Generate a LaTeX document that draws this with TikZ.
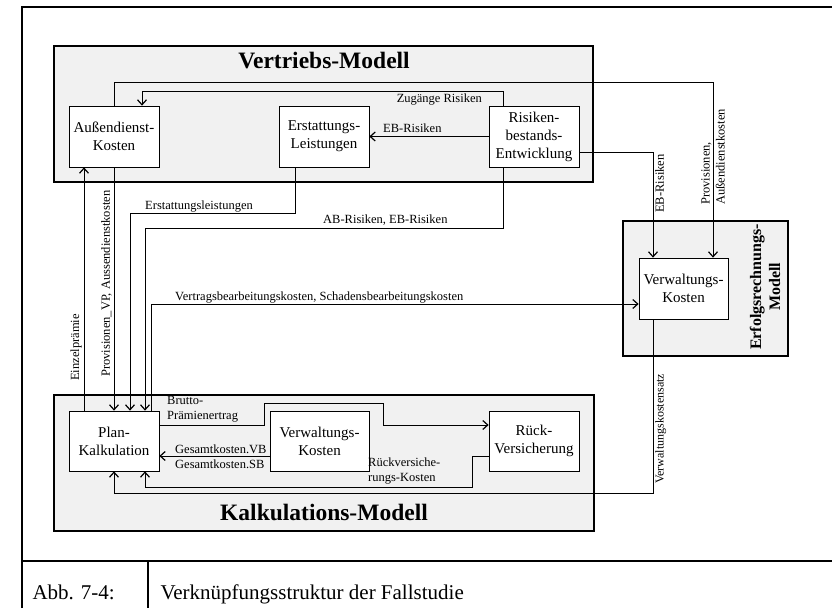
\documentclass[tikz,border=0pt]{standalone}
\usepackage{fontspec}
\setmainfont{Liberation Serif}
\usetikzlibrary{arrows.meta}

\definecolor{modellgrau}{RGB}{241,241,241}

\tikzset{
	>={Straight Barb[length=5pt,width=9pt,line width=1.2pt]},
	block/.style={draw,fill=white,line width=0.7pt,align=center,inner sep=0pt,
		minimum width=90pt,minimum height=61pt,font=\fontsize{15}{18}\selectfont},
	modell/.style={draw,fill=modellgrau,line width=2pt},
	titel/.style={font=\fontsize{23.5}{28}\selectfont\bfseries},
	lbl/.style={inner sep=0pt,font=\fontsize{12.5}{15}\selectfont},
	verb/.style={line width=0.7pt,->}
}

\begin{document}
\begin{tikzpicture}[x=1pt,y=1pt]
	\useasboundingbox (0,0) rectangle (832,608);
	% Rahmen mit Bildunterschrift
	\draw[line width=2pt] (22,0) -- (22,601) -- (832,601);
	\draw[line width=2pt] (22,47) -- (832,47);
	\draw[line width=1.2pt] (148,47) -- (148,0);
	\node[anchor=base west,font=\fontsize{21}{25}\selectfont] (abb) at (29,9) {Abb. 7-4:};
	\node[anchor=base west,font=\fontsize{21}{25}\selectfont] (titelabb) at (157,9) {Verknüpfungsstruktur der Fallstudie};

	% die drei Modelle
	\draw[modell] (54,426) rectangle (593,562);
	\draw[modell] (54,77) rectangle (594,213);
	\draw[modell] (623,252) rectangle (788,387);
	\node[titel,anchor=base] (vertrieb) at (324,539) {Vertriebs-Modell};
	\node[titel,anchor=base] (kalk) at (324,88) {Kalkulations-Modell};
	\node[rotate=90,align=center,inner sep=0pt,font=\fontsize{16}{19}\selectfont\bfseries] (erfolg) at (765,321) {Erfolgsrechnungs-\\Modell};

	% Vertriebs-Modell
	\node[block] (adk) at (114,471.5) {Außendienst-\\Kosten};
	\node[block] (erl) at (324,471.5) {Erstattungs-\\Leistungen};
	\node[block] (rbe) at (534,471.5) {Risiken-\\bestands-\\Entwicklung};

	% Erfolgsrechnungs-Modell
	\node[block,minimum width=89pt] (vke) at (683.5,319.5) {Verwaltungs-\\Kosten};

	% Kalkulations-Modell
	\node[block,minimum height=60pt] (pk) at (114,167) {Plan-\\Kalkulation};
	\node[block,minimum height=60pt,minimum width=99pt] (vkk) at (319.5,167) {Verwaltungs-\\Kosten};
	\node[block,minimum height=60pt] (rv) at (534,167) {Rück-\\Versicherung};

	% Verbindungen im Vertriebs-Modell
	\draw[verb] ([xshift=-31pt]rbe.north) -- ++(0,14) -| ([xshift=28pt]adk.north);
	\node[lbl,anchor=base east] (zug) at (482,505) {Zugänge Risiken};
	\draw[verb] (rbe.west) -- (erl.east);
	\node[lbl,anchor=base west] (ebr) at (383,475) {EB-Risiken};

	% zum Erfolgsrechnungs-Modell
	\draw[verb] (adk.north) -- ++(0,23) -| ([xshift=29.5pt]vke.north);
	\node[lbl,rotate=90,anchor=west,align=left] (prov) at (713,403) {Provisionen,\\Außendienstkosten};
	\draw[verb] ([yshift=-15.5pt]rbe.east) -| ([xshift=-30.5pt]vke.north);
	\node[lbl,rotate=90,anchor=north west] (ebr2) at (655,395) {EB-Risiken};

	% zur Plan-Kalkulation
	\draw[verb] ([xshift=-29pt]erl.south) -- ++(0,-46) -| ([xshift=16pt]pk.north);
	\node[lbl,anchor=base west] (erst) at (145,398) {Erstattungsleistungen};
	\draw[verb] ([xshift=-31pt]rbe.south) -- ++(0,-61) -| ([xshift=31pt]pk.north);
	\node[lbl,anchor=base west] (abeb) at (323,384) {AB-Risiken, EB-Risiken};
	\draw[verb] (adk.south) -- (pk.north);
	\node[lbl,rotate=90,anchor=south west] (provvp) at (112,231) {Provisionen\_VP, Aussendienstkosten};
	\draw[verb] ([xshift=-30pt]pk.north) -- ([xshift=-30pt]adk.south);
	\node[lbl,rotate=90,anchor=south west] (einz) at (82,227) {Einzelprämie};

	% Plan-Kalkulation <-> Verwaltungs-Kosten (Erfolgsrechnung)
	\draw[verb] ([xshift=37pt]pk.north) |- ([yshift=-15.5pt]vke.west);
	\node[lbl,anchor=base west] (vbk) at (175,307) {Vertragsbearbeitungskosten, Schadensbearbeitungskosten};
	\draw[verb] ([xshift=-30.5pt]vke.south) -- ++(0,-174) -| (pk.south);
	\node[lbl,rotate=90,anchor=north west,font=\fontsize{12}{14}\selectfont] (vks) at (655,124) {Verwaltungskostensatz};

	% Verbindungen im Kalkulations-Modell
	\draw[verb] ([yshift=16pt]pk.east) -| ++(105,22) -| ++(119,-22) -- ([yshift=16pt]rv.west);
	\node[lbl,anchor=south west,align=left] (brutto) at (167,186) {Brutto-\\Prämienertrag};
	\draw[verb] ([yshift=-15pt]vkk.west) -- ([yshift=-15pt]pk.east);
	\node[lbl,anchor=west,align=left] (gesk) at (175,151.5) {Gesamtkosten.VB\\Gesamtkosten.SB};
	\draw[verb] ([yshift=-15pt]rv.west) -| ++(-16,-31) -| ([xshift=31pt]pk.south);
	\node[lbl,anchor=south west,align=left] (rvk) at (368,124) {Rückversiche-\\rungs-Kosten};
\end{tikzpicture}
\end{document}
